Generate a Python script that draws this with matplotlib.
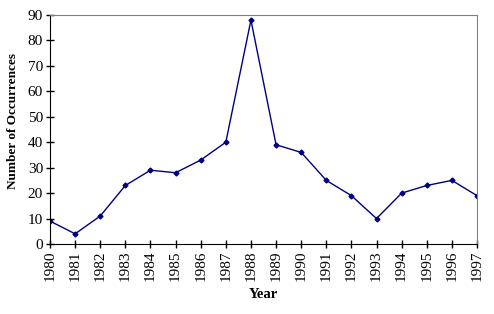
import matplotlib
matplotlib.use("Agg")
import matplotlib.pyplot as plt

# Data
years = [1980, 1981, 1982, 1983, 1984, 1985, 1986, 1987, 1988,
         1989, 1990, 1991, 1992, 1993, 1994, 1995, 1996, 1997]
occurrences = [9, 4, 11, 23, 29, 28, 33, 40, 88,
               39, 36, 25, 19, 10, 20, 23, 25, 19]
y_ticks = [0, 10, 20, 30, 40, 50, 60, 70, 80, 90]

plt.rcParams['font.family'] = ['Liberation Serif', 'DejaVu Serif']

fig = plt.figure(figsize=(4.94, 3.14), dpi=100)
ax = fig.add_axes([50 / 494, 70 / 314, 427 / 494, 229 / 314])

ax.plot(years, occurrences, color="#000080", linewidth=1,
        marker="D", markersize=2.5)

ax.set_xlim(years[0], years[-1])
ax.set_ylim(0, 90)
ax.set_xticks(years)
ax.set_xticklabels([str(y) for y in years], rotation=90, fontsize=11)
ax.set_yticks(y_ticks)
ax.tick_params(axis="y", labelsize=11, direction="inout", length=6, width=1, pad=2)
ax.tick_params(axis="x", direction="inout", length=6, width=1, pad=2)

ax.spines["top"].set_color("#808080")
ax.spines["right"].set_color("#808080")
ax.spines["left"].set_color("black")
ax.spines["bottom"].set_color("black")

ax.set_ylabel("Number of Occurrences", fontsize=9.5, fontweight="bold")
ax.yaxis.set_label_coords(-31 / 427, (244 - 121) / 229)
ax.set_xlabel("Year", fontsize=10.5, fontweight="bold")
ax.xaxis.set_label_coords((263 - 50) / 427, -(288 - 244) / 229)

fig.savefig("out.png", dpi=100)
